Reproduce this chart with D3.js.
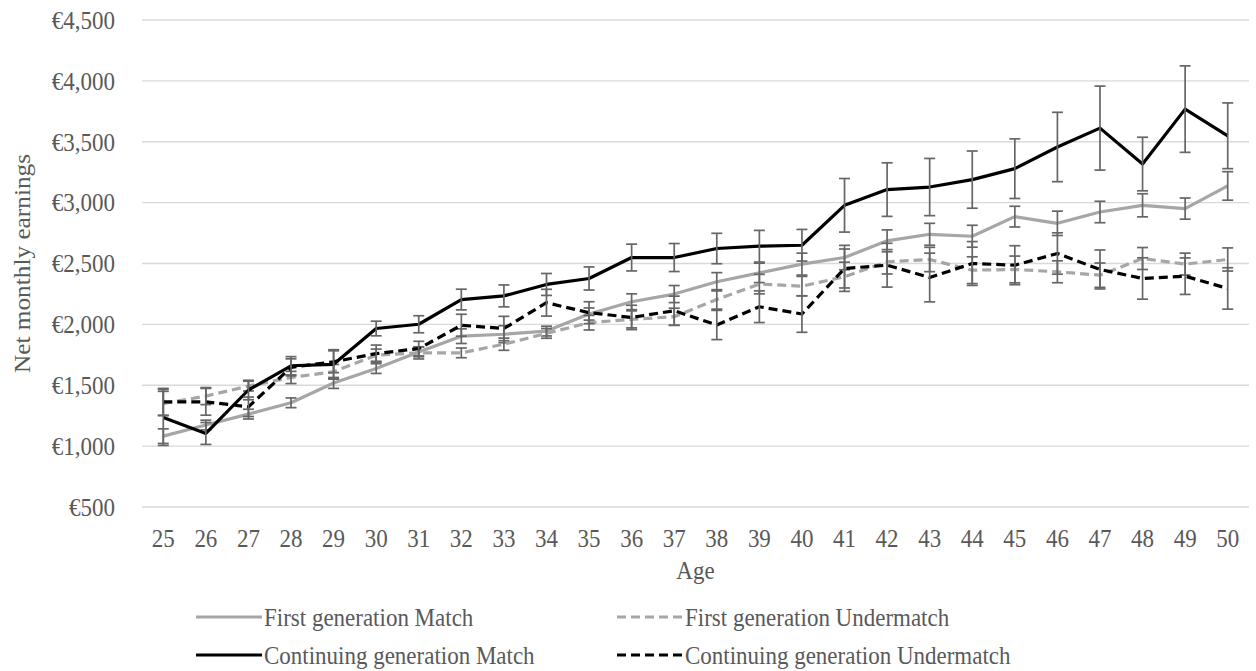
<!DOCTYPE html>
<html>
<head>
<meta charset="utf-8">
<script src="https://cdn.jsdelivr.net/npm/d3@7"></script>
<style>
  html, body { margin: 0; padding: 0; background: #fff; }
  svg text { font-family: "Liberation Serif", "Times New Roman", serif; fill: #595959; font-size: 23px; }
</style>
</head>
<body>
<svg id="chart" width="1256" height="671"></svg>
<script>
// values
const ages = [25, 26, 27, 28, 29, 30, 31, 32, 33, 34, 35, 36, 37, 38, 39, 40, 41, 42, 43, 44, 45, 46, 47, 48, 49, 50];
const yTicks = [500, 1000, 1500, 2000, 2500, 3000, 3500, 4000, 4500];

const firstGenMatch = [1082, 1173, 1263, 1356, 1519, 1637, 1774, 1903, 1919, 1945, 2085, 2186, 2249, 2350, 2423, 2495, 2549, 2686, 2740, 2724, 2885, 2830, 2923, 2978, 2951, 3137];
const firstGenMatchErr = [60, 40, 40, 40, 45, 40, 40, 60, 70, 40, 50, 65, 70, 75, 80, 90, 100, 90, 90, 90, 85, 100, 88, 95, 87, 117];

const firstGenUnder = [1350, 1411, 1493, 1564, 1611, 1747, 1766, 1766, 1837, 1926, 2014, 2041, 2063, 2205, 2331, 2314, 2391, 2514, 2533, 2445, 2451, 2432, 2404, 2541, 2495, 2533];
const firstGenUnderErr = [100, 70, 40, 50, 60, 50, 50, 40, 50, 40, 60, 70, 70, 80, 80, 80, 120, 100, 100, 110, 110, 90, 100, 90, 90, 95];

const contGenMatch = [1236, 1104, 1461, 1660, 1672, 1966, 2001, 2204, 2234, 2328, 2377, 2549, 2549, 2623, 2642, 2650, 2978, 3107, 3128, 3189, 3279, 3457, 3612, 3317, 3768, 3549];
const contGenMatchErr = [230, 90, 80, 75, 120, 60, 70, 85, 90, 90, 95, 110, 115, 125, 130, 130, 220, 220, 235, 235, 245, 285, 345, 220, 355, 270];

const contGenUnder = [1364, 1364, 1323, 1647, 1693, 1760, 1801, 1993, 1966, 2178, 2096, 2057, 2112, 1995, 2145, 2085, 2459, 2486, 2385, 2500, 2486, 2582, 2451, 2377, 2396, 2295];
const contGenUnderErr = [110, 110, 80, 70, 90, 70, 60, 90, 100, 110, 90, 100, 120, 120, 130, 150, 160, 180, 200, 180, 160, 170, 160, 170, 150, 170];

const seriesNames = ['First generation Match', 'First generation Undermatch', 'Continuing generation Match', 'Continuing generation Undermatch'];

(function() {
  const svg = d3.select('#chart');
  const left = 142, right = 1249, top = 20, bottom = 507;
  const stretch = 1.1; // the source text is a bit taller than wide

  const x = d3.scaleBand().domain(ages).range([left, right]);
  const y = d3.scaleLinear().domain([500, 4500]).range([bottom, top]);
  const fmt = d3.format(',');

  function label(g, tx, ty, anchor, str, rot) {
    return g.append('text')
      .attr('transform', 'translate(' + tx + ',' + ty + ') scale(1,' + stretch + ')' + (rot ? ' rotate(' + rot + ')' : ''))
      .attr('dy', '0.35em')
      .attr('text-anchor', anchor)
      .text(str);
  }

  // gridlines + y labels
  const yAxis = svg.append('g');
  yAxis.selectAll('line').data(yTicks).enter().append('line')
    .attr('x1', left).attr('x2', right)
    .attr('y1', d => y(d)).attr('y2', d => y(d))
    .attr('stroke', '#d9d9d9').attr('stroke-width', 1.3);
  yTicks.forEach(d => label(yAxis, 115, y(d), 'end', '€' + fmt(d)));

  // x labels
  const xAxis = svg.append('g');
  ages.forEach(d => label(xAxis, x(d) + x.bandwidth() / 2, 538, 'middle', d));

  label(svg, (left + right) / 2, 570, 'middle', 'Age');
  label(svg, 22, (top + bottom) / 2, 'middle', 'Net monthly earnings', -90);

  const series = [
    { name: seriesNames[0], values: firstGenMatch, err: firstGenMatchErr, color: '#a6a6a6', dash: null },
    { name: seriesNames[1], values: firstGenUnder, err: firstGenUnderErr, color: '#a6a6a6', dash: '9,5' },
    { name: seriesNames[2], values: contGenMatch, err: contGenMatchErr, color: '#000', dash: null },
    { name: seriesNames[3], values: contGenUnder, err: contGenUnderErr, color: '#000', dash: '9,5' }
  ];

  const line = d3.line()
    .x((d, i) => x(ages[i]) + x.bandwidth() / 2)
    .y(d => y(d));

  series.forEach(s => {
    svg.append('path')
      .datum(s.values)
      .attr('d', line)
      .attr('fill', 'none')
      .attr('stroke', s.color)
      .attr('stroke-width', 3.2)
      .attr('stroke-linejoin', 'round')
      .attr('stroke-dasharray', s.dash);

    const eb = svg.append('g').attr('stroke', '#666').attr('stroke-width', 1.7);
    s.values.forEach((v, i) => {
      const cx = x(ages[i]) + x.bandwidth() / 2;
      const hi = y(v + s.err[i]), lo = y(v - s.err[i]);
      eb.append('line').attr('x1', cx).attr('x2', cx).attr('y1', hi).attr('y2', lo);
      eb.append('line').attr('x1', cx - 5.5).attr('x2', cx + 5.5).attr('y1', hi).attr('y2', hi);
      eb.append('line').attr('x1', cx - 5.5).attr('x2', cx + 5.5).attr('y1', lo).attr('y2', lo);
    });
  });

  // legend, 2 x 2
  const legendPos = [[196, 617], [617, 617], [196, 655], [617, 655]];
  series.forEach((s, i) => {
    const [lx, ly] = legendPos[i];
    svg.append('line')
      .attr('x1', lx).attr('x2', lx + 66).attr('y1', ly).attr('y2', ly)
      .attr('stroke', s.color).attr('stroke-width', 3.2)
      .attr('stroke-dasharray', s.dash);
    label(svg, lx + 68, ly, 'start', s.name);
  });
})();
</script>
</body>
</html>
